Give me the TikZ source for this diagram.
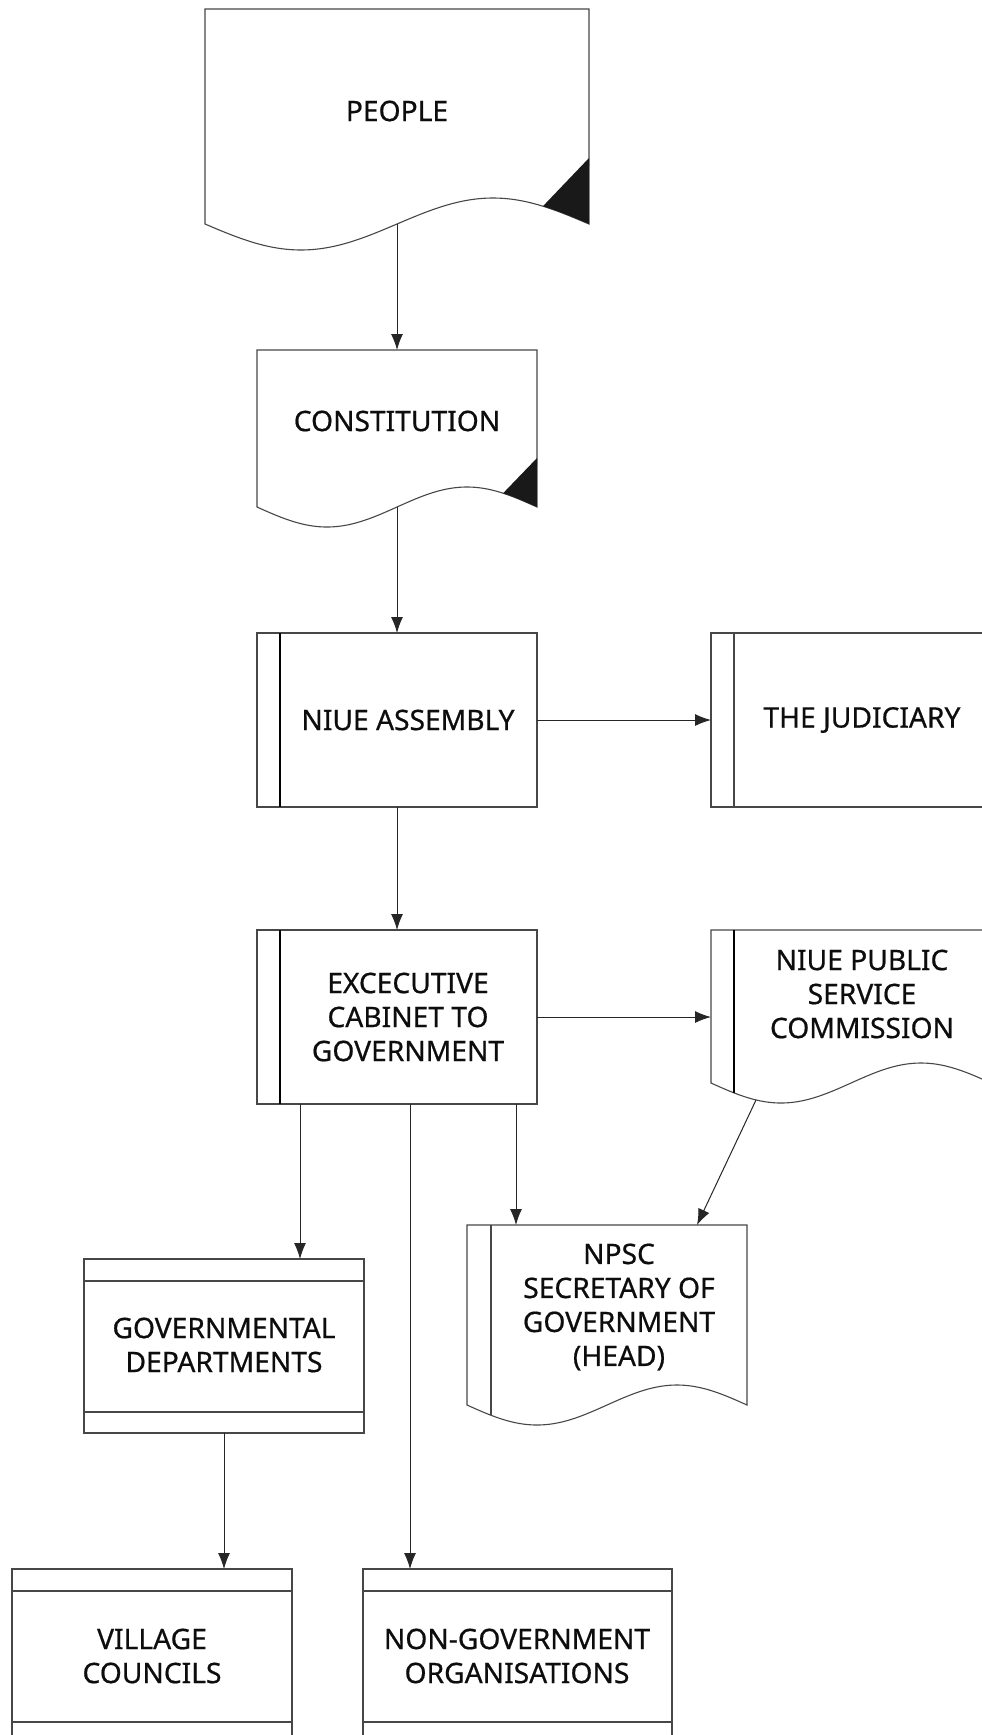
\documentclass[tikz,border=0pt]{standalone}
\usepackage{fontspec}
\setmainfont[FakeBold=0.6]{Noto Sans}
\usetikzlibrary{arrows.meta}
\newcommand\docpath[5]{% #1 left x, #2 width, #3 top y, #4 wave base y, #5 amplitude
  (#1,#4) -- (#1,#3) -- ({#1+#2},#3) -- ({#1+#2},#4)
  -- plot[domain=1:0,samples=60,smooth] ({#1+\x*#2},{#4+#5*sin(360*\x)}) -- cycle}
\begin{document}
\begin{tikzpicture}[x=1pt,y=-1pt,
  outl/.style={draw=black!72, line width=1.1pt},
  innerln/.style={draw=black, line width=1.6pt},
  thinln/.style={draw=black!72, line width=1.1pt},
  arr/.style={draw=black!85, line width=1pt, -{Latex[length=16pt,width=12pt]}},
  lbl/.style={font=\fontsize{28.2}{34}\selectfont, align=center, text=black!95, inner sep=0pt},
  area/.style={draw=none, inner sep=0pt, outer sep=0pt},
]
\useasboundingbox (0,0) rectangle (982,1735);
\fill[white] (0,0) rectangle (982,1735);
\clip (0,0) rectangle (982,1735);

% ---------- box areas (named) ----------
\node[area, minimum width=384pt, minimum height=215pt] (people) at (397,116.5) {};
\node[area, minimum width=280pt, minimum height=157pt] (const)  at (397,428.5) {};
\node[area, minimum width=280pt, minimum height=174pt] (asm)    at (397,720) {};
\node[area, minimum width=280pt, minimum height=174pt] (jud)    at (851,720) {};
\node[area, minimum width=280pt, minimum height=174pt] (exec)   at (397,1017) {};
\node[area, minimum width=280pt, minimum height=153pt] (comm)   at (851,1006.5) {};
\node[area, minimum width=280pt, minimum height=180pt] (npsc)   at (607,1315) {};
\node[area, minimum width=280pt, minimum height=174pt] (gov)    at (224,1346) {};
\node[area, minimum width=280pt, minimum height=174pt] (vil)    at (152,1656) {};
\node[area, minimum width=309pt, minimum height=174pt] (ngo)    at (517.5,1656) {};

% ---------- PEOPLE ----------
\draw[outl] \docpath{205}{384}{9}{224}{26};
\fill[black!90] (589,158) -- plot[domain=0.88:1,samples=12] ({205+\x*384},{224+26*sin(360*\x)}) -- cycle;
\node[lbl] (peoplet) at (397,111) {PEOPLE};

% ---------- CONSTITUTION ----------
\draw[outl] \docpath{257}{280}{350}{507}{20};
\fill[black!90] (537,458) -- plot[domain=0.879:1,samples=12] ({257+\x*280},{507+20*sin(360*\x)}) -- cycle;
\node[lbl] (constt) at (397,421) {CONSTITUTION};

% ---------- NIUE ASSEMBLY ----------
\draw[outl] (asm.north west) rectangle (asm.south east);
\draw[innerln] ([xshift=23pt]asm.north west) -- ([xshift=23pt]asm.south west);
\node[lbl] (asmt) at (408,720) {NIUE ASSEMBLY};

% ---------- THE JUDICIARY ----------
\draw[outl] (jud.north west) rectangle (jud.south east);
\draw[thinln] ([xshift=23pt]jud.north west) -- ([xshift=23pt]jud.south west);
\node[lbl] (judt) at (862,720) {THE JUDICIARY};

% ---------- EXECUTIVE ----------
\draw[outl] (exec.north west) rectangle (exec.south east);
\draw[innerln] ([xshift=23pt]exec.north west) -- ([xshift=23pt]exec.south west);
\node[lbl] (exect) at (408,1017) {EXCECUTIVE\\CABINET TO\\GOVERNMENT};

% ---------- COMMISSION ----------
\draw[outl] \docpath{711}{280}{930}{1083}{20};
\draw[innerln] (734,930) -- (734,1093);
\node[lbl] (commt) at (862,994) {NIUE PUBLIC\\SERVICE\\COMMISSION};

% ---------- NPSC ----------
\draw[outl] \docpath{467}{280}{1225}{1405}{20};
\draw[thinln] (491,1225) -- (491,1415);
\node[lbl] (npsct) at (619,1307) {NPSC\\SECRETARY OF\\GOVERNMENT\\(HEAD)};

% ---------- GOVERNMENTAL DEPARTMENTS ----------
\draw[outl] (gov.north west) rectangle (gov.south east);
\draw[thinln] ([yshift=-22pt]gov.north west) -- ([yshift=-22pt]gov.north east);
\draw[thinln] ([yshift=21pt]gov.south west) -- ([yshift=21pt]gov.south east);
\node[lbl] (govt) at (224,1345) {GOVERNMENTAL\\DEPARTMENTS};

% ---------- VILLAGE COUNCILS ----------
\draw[outl] (vil.north west) rectangle (vil.south east);
\draw[thinln] ([yshift=-22pt]vil.north west) -- ([yshift=-22pt]vil.north east);
\draw[thinln] ([yshift=21pt]vil.south west) -- ([yshift=21pt]vil.south east);
\node[lbl] (vilt) at (152,1656) {VILLAGE\\COUNCILS};

% ---------- NGO ----------
\draw[outl] (ngo.north west) rectangle (ngo.south east);
\draw[thinln] ([yshift=-22pt]ngo.north west) -- ([yshift=-22pt]ngo.north east);
\draw[thinln] ([yshift=21pt]ngo.south west) -- ([yshift=21pt]ngo.south east);
\node[lbl] (ngot) at (517,1656) {NON-GOVERNMENT\\ORGANISATIONS};

% ---------- connectors ----------
\draw[arr] (people.south) -- (const.north);
\draw[arr] (const.south) -- (asm.north);
\draw[arr] (asm.east) -- (asm.east -| jud.west);
\draw[arr] (asm.south) -- (exec.north);
\draw[arr] (exec.east) -- (exec.east -| comm.west);
\coordinate (e1) at ([xshift=-97pt]exec.south);
\coordinate (e2) at ([xshift=13pt]exec.south);
\coordinate (e3) at ([xshift=119pt]exec.south);
\draw[arr] (e1) -- (e1 |- gov.north);
\draw[arr] (e2) -- (e2 |- ngo.north);
\draw[arr] (e3) -- (e3 |- npsc.north);
\coordinate (cs) at (756,1100);
\draw[arr] (cs) -- ([xshift=90pt]npsc.north);
\draw[arr] (gov.south) -- (gov.south |- vil.north);
\end{tikzpicture}
\end{document}
